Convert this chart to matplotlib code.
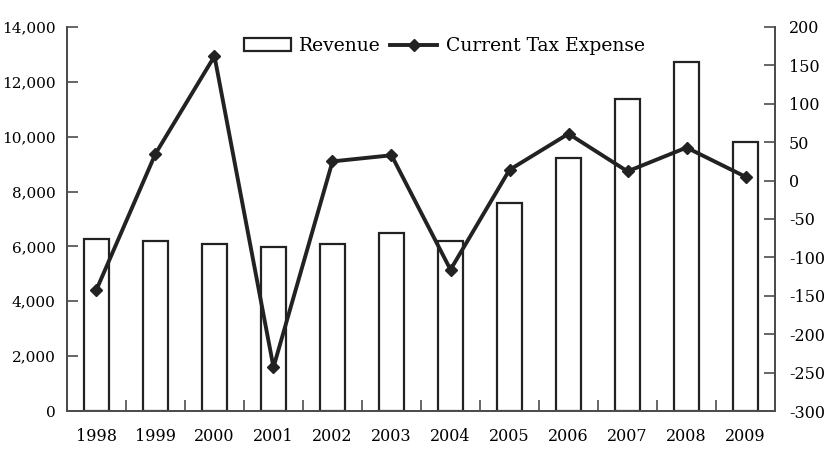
import matplotlib.pyplot as plt
import matplotlib.ticker as mticker
import numpy as np

years = ["1998", "1999", "2000", "2001", "2002", "2003",
         "2004", "2005", "2006", "2007", "2008", "2009"]
revenue = [6270, 6210, 6090, 5990, 6090, 6500, 6200, 7570, 9210, 11360, 12710, 9820]
tax_expense = [-142, 35, 162, -243, 25, 33, -116, 14, 61, 12, 43, 5]

plt.rcParams['font.family'] = ['DejaVu Serif']
axis_col = "#4d4d4d"
dark = "#222222"

fig = plt.figure(figsize=(8.33, 4.63), dpi=100)
ax1 = fig.add_axes([0.0804, 0.1123, 0.85, 0.8294])
ax2 = ax1.twinx()

x = np.arange(len(years))
bars = ax1.bar(x, revenue, width=0.42, facecolor="white", edgecolor=dark,
               linewidth=1.6, label="Revenue")
line, = ax2.plot(x, tax_expense, color=dark, linewidth=2.8, marker="D",
                 markersize=6, label="Current Tax Expense")

ax1.set_xlim(-0.5, len(years) - 0.5)
ax1.set_ylim(0, 14000)
ax2.set_ylim(-300, 200)
ax1.set_yticks(np.arange(0, 14001, 2000))
ax2.set_yticks(np.arange(-300, 201, 50))
ax1.yaxis.set_major_formatter(mticker.FuncFormatter(lambda v, p: f"{int(v):,}"))
ax2.yaxis.set_major_formatter(mticker.FuncFormatter(lambda v, p: f"{int(v)}"))

ax1.set_xticks(x)
ax1.set_xticklabels(years)
ax1.set_xticks(np.arange(0.5, len(years) - 1, 1), minor=True)
ax1.tick_params(axis="x", which="major", length=0, pad=12, labelsize=11.5)
ax1.tick_params(axis="x", which="minor", length=8, direction="in", color=axis_col, width=1.2)
ax1.tick_params(axis="y", length=8, direction="in", color=axis_col, width=1.2, pad=8, labelsize=11)
ax2.tick_params(axis="y", length=8, direction="in", color=axis_col, width=1.2, pad=10, labelsize=11.5)

for ax in (ax1, ax2):
    ax.spines["top"].set_visible(False)
    for s in ("left", "right", "bottom"):
        ax.spines[s].set_color(axis_col)
        ax.spines[s].set_linewidth(1.4)

ax1.legend([bars, line], ["Revenue", "Current Tax Expense"], loc="center",
           bbox_to_anchor=(0.533, 0.95), ncol=2, frameon=False, fontsize=13.5,
           handlelength=2.5, columnspacing=0.5, handletextpad=0.45)

fig.savefig("out.png", dpi=100)
